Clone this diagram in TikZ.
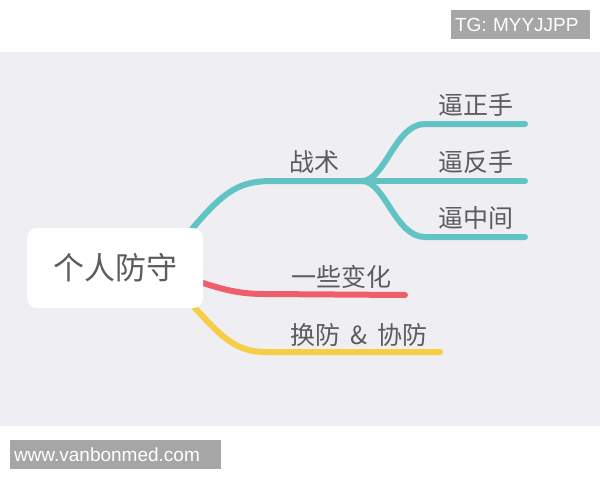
\documentclass[tikz,border=0pt]{standalone}
\usepackage{fontspec}
\setmainfont{Liberation Sans}
\newfontfamily\cjk{Noto Sans CJK SC}
\definecolor{bggrey}{HTML}{EFEEF2}
\definecolor{wmgrey}{HTML}{A6A6A6}
\definecolor{txtgrey}{HTML}{5C5C5C}
\definecolor{tealline}{HTML}{62C3C5}
\definecolor{redline}{HTML}{EF5E6B}
\definecolor{yellowline}{HTML}{F6CD45}
\tikzset{
  wm/.style={fill=wmgrey, text=white, font=\fontsize{19}{19}\selectfont, inner xsep=4pt, inner ysep=0pt, minimum height=29pt, align=left},
  rootbox/.style={fill=white, rounded corners=10pt, minimum width=176pt, minimum height=80pt, text=txtgrey, font=\cjk\fontsize{31}{31}\selectfont},
  lbl/.style={text=txtgrey, font=\cjk\fontsize{25}{25}\selectfont, inner sep=0pt},
  branch/.style={line width=6pt, line cap=round},
}
\begin{document}
\begin{tikzpicture}[x=1pt,y=-1pt]
\useasboundingbox (0,0) rectangle (600,480);
\fill[white] (0,0) rectangle (600,480);
\fill[bggrey] (0,52) rectangle (600,426);
\node[wm, text width=131pt] (tg) at (520.5,24.5) {TG: MYYJJPP};
\node[wm, text width=203pt] (www) at (115.5,454.5) {www.vanbonmed.com};

\coordinate (t0) at (192,229);
\coordinate (t1) at (362,181);
\coordinate (tu) at (525,124);
\coordinate (tm) at (525,181);
\coordinate (tl) at (525,237);
\coordinate (r0) at (203,283);
\coordinate (r1) at (405,295);
\coordinate (y0) at (195,308);
\coordinate (y1) at (440,352);

\draw[branch, tealline] (t0) .. controls (225,190) and (240,181) .. (272,181) -- (t1);
\draw[branch, tealline] (t1) .. controls (385,181) and (395,124) .. (425,124) -- (tu);
\draw[branch, tealline] (t1) -- (tm);
\draw[branch, tealline] (t1) .. controls (385,181) and (395,237) .. (425,237) -- (tl);
\draw[branch, redline] (r0) .. controls (225,290) and (240,294) .. (265,294) -- (r1);
\draw[branch, yellowline] (y0) .. controls (220,335) and (235,352) .. (265,352) -- (y1);

\node[rootbox] (root) at (115,268) {个人防守};
\node[lbl] (zs) at (314,162) {战术};
\node[lbl] (zzs) at (476,105) {逼正手};
\node[lbl] (zfs) at (476,162) {逼反手};
\node[lbl] (zzj) at (476,218) {逼中间};
\node[lbl] (yxbh) at (341,277) {一些变化};
\node[lbl] (hf) at (359,335) {换防\hspace{10pt}\&\hspace{10pt}协防};
\end{tikzpicture}
\end{document}
